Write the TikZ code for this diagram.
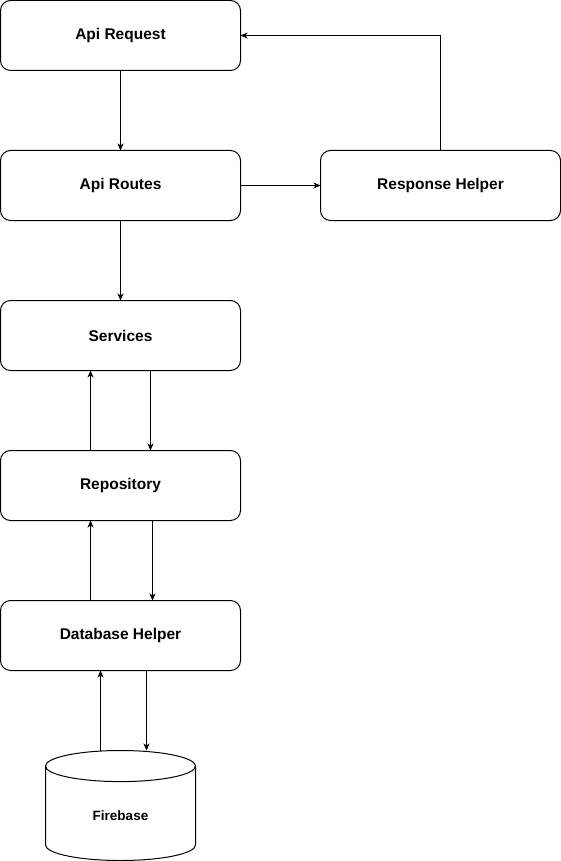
\documentclass[tikz,border=0pt]{standalone}
\usepackage{fontspec}
\setmainfont{Liberation Sans}
\usetikzlibrary{shapes.geometric, arrows.meta, positioning}

\begin{document}
\begin{tikzpicture}[
        x=1pt, y=-1pt,
        node distance=80pt,
        box/.style={rectangle, draw=black, line width=1pt, outer sep=0pt, rounded corners=10pt, minimum width=240pt, minimum height=70pt, align=center, font=\bfseries\fontsize{15.5}{18}\selectfont},
        store/.style={cylinder, shape border rotate=90, draw=black, line width=1pt, outer sep=0pt, aspect=0.5, minimum width=150pt, minimum height=110pt, text height=10pt, text depth=0pt, font=\bfseries\fontsize{13.5}{16}\selectfont},
        arr/.style={-{Stealth[length=7pt, width=6pt, inset=2pt]}, line width=1pt}
    ]
    \useasboundingbox (0,0) rectangle (561,861);

    \node[box] (req) at (120.5,35.5) {Api Request};
    \node[box, below=of req] (routes) {Api Routes};
    \node[box, right=of routes] (resp) {Response Helper};
    \node[box, below=of routes] (serv) {Services};
    \node[box, below=of serv] (repo) {Repository};
    \node[box, below=of repo] (dbh) {Database Helper};
    \node[store, below=of dbh] (fb) {Firebase};

    \draw[arr] (req) -- (routes);
    \draw[arr] (routes) -- (resp);
    \draw[arr] (resp.north) |- (req.east);
    \draw[arr] (routes) -- (serv);

    % up and down links
    \draw[arr] ([xshift=30pt]serv.south) -- ([xshift=30pt]repo.north);
    \draw[arr] ([xshift=-30pt]repo.north) -- ([xshift=-30pt]serv.south);
    \draw[arr] ([xshift=32pt]repo.south) -- ([xshift=32pt]dbh.north);
    \draw[arr] ([xshift=-30pt]dbh.north) -- ([xshift=-30pt]repo.south);
    \draw[arr] ([xshift=26pt]dbh.south) -- ([xshift=26pt]fb.north);
    \draw[arr] ([xshift=-20pt]fb.north) -- ([xshift=-20pt]dbh.south);
\end{tikzpicture}
\end{document}
